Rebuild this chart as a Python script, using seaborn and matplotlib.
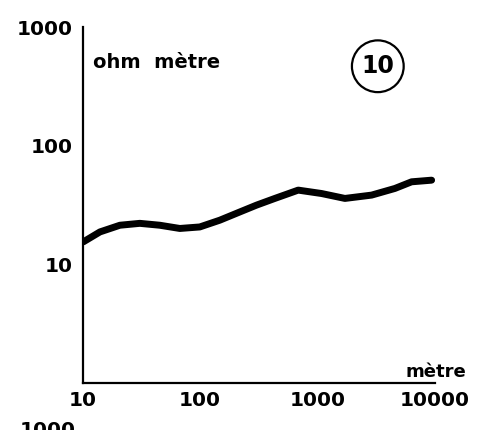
import numpy as np
import pandas as pd
import matplotlib
matplotlib.use("Agg")
import matplotlib.pyplot as plt
import seaborn as sns

# apparent resistivity curve
distance_m = [10.1, 14.0, 20.7, 30.6, 45.3, 67.1, 99.3, 147, 218, 302,
              433, 685, 1083, 1713, 2893, 4570, 6340, 9390]
resistivity_ohm_m = [15.5, 18.8, 21.4, 22.2, 21.4, 20.1, 20.7, 23.6, 27.7, 31.6,
                     36.0, 42.3, 39.6, 36.0, 38.4, 43.7, 49.7, 51.3]

x_ticks = [10, 100, 1000, 10000]
x_labels = ["10", "100", "1000", "10000"]
y_ticks = [10, 100, 1000]
y_labels = ["10", "100", "1000"]

sns.set_style("white")
plt.rcParams['font.family'] = ['DejaVu Sans']
plt.rcParams['font.weight'] = 'bold'
plt.rcParams['text.color'] = 'black'

df = pd.DataFrame({"x": distance_m, "y": resistivity_ohm_m})

fig = plt.figure(figsize=(4.93, 4.3), dpi=100)
ax = fig.add_axes([0.168, 0.109, 0.714, 0.828])

sns.lineplot(data=df, x="x", y="y", ax=ax, color="black", linewidth=5,
             solid_capstyle="round", solid_joinstyle="round")

ax.set_xscale("log")
ax.set_yscale("log")
ax.set_xlim(10, 10000)
ax.set_ylim(1, 1000)
ax.set_xticks(x_ticks)
ax.set_xticklabels(x_labels)
ax.set_yticks(y_ticks)
ax.set_yticklabels(y_labels)
ax.minorticks_off()
ax.set_xlabel("")
ax.set_ylabel("")

for side in ["top", "right"]:
    ax.spines[side].set_visible(False)
for side in ["left", "bottom"]:
    ax.spines[side].set_linewidth(1.6)
    ax.spines[side].set_color("black")

ax.tick_params(axis="y", direction="out", length=6, width=1.6, pad=1,
               labelsize=14.5, colors="black")
ax.tick_params(axis="x", direction="inout", length=5, width=1.2, pad=3,
               labelsize=14.5, colors="black")
for lab in ax.get_xticklabels() + ax.get_yticklabels():
    lab.set_fontweight("bold")
    lab.set_color("black")

ax.text(0.028, 0.90, "ohm  mètre", transform=ax.transAxes, fontsize=14,
        fontweight="bold", ha="left", va="center", color="black")
ax.text(1.003, 0.031, "mètre", transform=ax.transAxes, fontsize=13,
        fontweight="bold", ha="center", va="center", clip_on=False, color="black")
ax.text(0.838, 0.89, "10", transform=ax.transAxes, fontsize=17,
        fontweight="bold", ha="center", va="center", color="black",
        bbox=dict(boxstyle="circle,pad=0.4", fc="none", ec="black", lw=1.6))

# top of the next panel's axis label, cut by the page edge
fig.text(0.04, 0.02, "1000", fontsize=14.5, fontweight="bold", ha="left", va="top",
         color="black")

fig.savefig("out.png", dpi=100)
